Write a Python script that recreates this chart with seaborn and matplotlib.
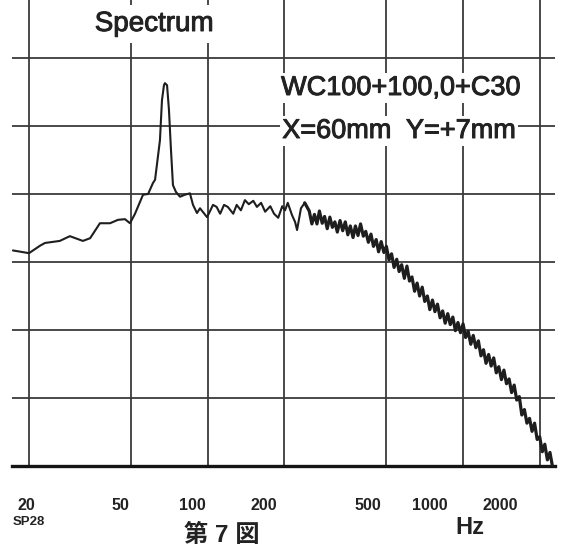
import numpy as np
import pandas as pd
import matplotlib
matplotlib.use("Agg")
import matplotlib.pyplot as plt
import matplotlib.transforms as mtransforms
import matplotlib.patheffects as pe
from matplotlib.ticker import NullLocator
import seaborn as sns

# ---- data (frequency in Hz, level in dB; grid step 10 dB) ----
freq_hz = [
    17.3, 20, 22.1, 23.1, 26.4, 28.9, 32.5, 34.7, 37.9, 41.5, 44.6, 47.5, 49.7,
    52, 55.9, 58.5, 61.1, 62.3, 65.1, 66.3, 67.5, 68.1, 69.4, 70.6, 71.9, 73.2,
    75.2, 78, 81.6, 85.3, 87.7, 90.9, 93.4, 99.5, 102, 105, 108.5, 112, 116, 120,
    126, 130, 135, 140, 145, 151, 156, 162, 168, 176, 182, 189, 196, 201, 206,
    214, 220, 224, 232, 240,
    250, 256, 262, 268, 274, 281, 287, 294, 301, 308, 315, 322, 330, 338, 346,
    354, 362, 371, 379, 388, 397, 407, 416, 426, 436, 446, 457, 467, 478, 490,
    501, 513, 525, 537, 550, 562, 575, 589, 603, 617, 631, 646, 661, 676, 692,
    708, 725, 741, 759, 776, 794, 813, 832, 851, 871, 891, 912, 933, 955, 977,
    1000, 1023, 1047, 1072, 1096, 1122, 1148, 1175, 1202, 1230, 1259, 1288,
    1318, 1349, 1380, 1413, 1445, 1479, 1514, 1549, 1585, 1622, 1660, 1698,
    1738, 1778, 1820, 1862, 1905, 1950, 1995, 2042, 2089, 2138, 2188, 2239,
]
level_db = [
    -28.3, -28.7, -27.6, -27.2, -26.9, -26.2, -26.9, -26.5, -24.3, -24.3, -23.8,
    -23.7, -24.3, -22.9, -20.1, -20.0, -18.4, -17.9, -12.1, -6.2, -4.0, -3.7,
    -4.0, -7.6, -13.5, -18.7, -19.7, -20.4, -20.1, -19.9, -21.6, -22.8, -22.1,
    -23.4, -22.6, -21.6, -21.9, -22.9, -21.6, -21.9, -22.9, -21.6, -22.4, -20.9,
    -21.5, -21.0, -21.9, -21.3, -22.6, -21.8, -22.9, -23.5, -21.8, -22.4, -21.3,
    -23.1, -24.1, -25.3, -22.1, -21.3,
    -22.5, -24.4, -23.0, -24.4, -22.5, -24.3, -23.3, -25.1, -23.4, -24.9, -24.1,
    -25.6, -23.9, -25.4, -24.1, -26.0, -24.7, -26.4, -24.7, -26.1, -24.4, -26.2,
    -25.5, -27.1, -25.9, -27.7, -26.7, -28.5, -27.0, -28.6, -27.7, -29.7, -28.8,
    -30.8, -29.6, -31.4, -30.4, -32.4, -30.6, -32.8, -32.2, -34.3, -33.1, -35.0,
    -33.7, -35.8, -35.0, -37.0, -35.6, -37.3, -36.2, -38.2, -37.2, -39.0, -37.6,
    -39.2, -38.1, -40.1, -38.9, -40.4, -39.1, -41.1, -40.2, -42.1, -40.8, -42.6,
    -41.6, -43.8, -42.9, -44.9, -43.6, -45.3, -44.1, -46.3, -45.4, -47.3, -45.9,
    -47.9, -47.2, -49.2, -48.1, -50.3, -49.8, -52.5, -51.7, -53.7, -53.0, -54.9,
    -53.7, -56.1, -55.7, -57.9, -56.8, -59.1, -58.0, -60.1,
]

grid_freqs = [20, 50, 100, 200, 500, 1000, 2000]
tick_labels = ["20", "50", "100", "200", "500", "1000", "2000"]
grid_levels = [0, -10, -20, -30, -40, -50]

title_text = "Spectrum"
condition_1 = "WC100+100,0+C30"
condition_2 = "X=60mm  Y=+7mm"
figure_label = "第 7 図"
code_label = "SP28"
unit_label = "Hz"

# ---- styling ----
sns.set_theme(style="white")
plt.rcParams['font.family'] = ['Liberation Sans', 'Noto Sans CJK JP', 'DejaVu Sans']

W, H = 561, 548
ink = "#1e1e1e"
fig = plt.figure(figsize=(W / 100, H / 100), dpi=100)
fig.patch.set_facecolor("white")
ax = fig.add_axes([12 / W, 82 / H, 543 / W, 466 / H])
ax.set_facecolor("white")

df = pd.DataFrame({"freq": freq_hz, "level": level_db})
# sparse low-frequency part and the dense (noisy) high-frequency band
sns.lineplot(data=df[df["freq"] <= 250], x="freq", y="level", ax=ax, color=ink,
             linewidth=1.5, sort=False, estimator=None, zorder=3)
sns.lineplot(data=df[df["freq"] >= 240], x="freq", y="level", ax=ax, color=ink,
             linewidth=2.3, sort=False, estimator=None, zorder=3)

ax.set_xscale("log")
ax.set_xlim(17.16, 2290)
ax.set_ylim(-60, 8.53)
ax.set_xticks(grid_freqs)
ax.set_xticklabels(tick_labels, fontsize=11.5, fontweight="bold", color="#222")
ax.xaxis.set_minor_locator(NullLocator())
ax.set_yticks(grid_levels)
ax.grid(True, color="#3a3a3a", linewidth=1.3)
ax.set_xlabel("")
ax.set_ylabel("")

for side in ["left", "right", "top"]:
    ax.spines[side].set_visible(False)
ax.spines["bottom"].set_linewidth(2.4)
ax.spines["bottom"].set_color("#151515")

ax.tick_params(axis="x", direction="out", length=15, width=1.3, color="#333",
               pad=8)
ax.tick_params(axis="y", left=False, labelleft=False)

# labels sit left of their tick lines in the reference
label_dx_px = [-3, -10, -15, -21, -18, -33, -40]
for lbl, dx in zip(ax.get_xticklabels(), label_dx_px):
    lbl.set_transform(lbl.get_transform() +
                      mtransforms.ScaledTranslation(dx / 100, 0, fig.dpi_scale_trans))

thick = [pe.withStroke(linewidth=0.7, foreground="#222")]
white_box = dict(facecolor="white", edgecolor="none", pad=1.5)
fig.text(154 / W, 1 - 24 / H, title_text, ha="center", va="center",
         fontsize=20, color="#222", path_effects=thick,
         bbox=dict(facecolor="white", edgecolor="none", pad=4))
fig.text(401 / W, 1 - 88 / H, condition_1, ha="center", va="center",
         fontsize=19.5, color="#222", path_effects=thick, bbox=white_box)
fig.text(399 / W, 1 - 131 / H, condition_2, ha="center", va="center",
         fontsize=19.5, color="#222", path_effects=thick, bbox=white_box)

fig.text(29 / W, 1 - 522 / H, code_label, ha="center", va="center",
         fontsize=9.5, fontweight="bold", color="#222")
fig.text(222 / W, 1 - 535 / H, figure_label, ha="center", va="center",
         fontsize=17.5, fontweight="bold", color="#222")
fig.text(470 / W, 1 - 527 / H, unit_label, ha="center", va="center",
         fontsize=17, fontweight="bold", color="#222")

fig.savefig("out.png", dpi=100, facecolor="white")
